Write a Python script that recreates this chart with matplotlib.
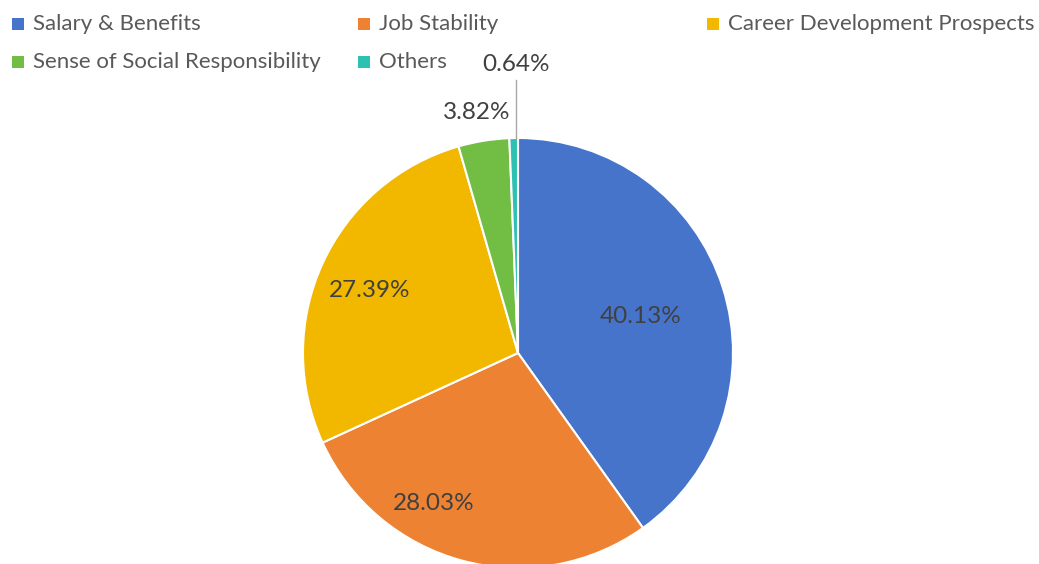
import matplotlib
matplotlib.use("Agg")
import matplotlib.pyplot as plt
from matplotlib.patches import Rectangle

categories = ["Salary & Benefits", "Job Stability", "Career Development Prospects",
              "Sense of Social Responsibility", "Others"]
shares = [40.13, 28.03, 27.39, 3.82, 0.64]
colors = ["#4674CB", "#ED8232", "#F2B800", "#72BE44", "#2CC1B1"]

# label anchor points (pie data units), Excel-style placement
label_pos = [(0.57, 0.17), (-0.39, -0.70), (-0.69, 0.29), (-0.19, 1.12), (-0.01, 1.34)]

W, H = 1039, 564
fig = plt.figure(figsize=(W / 100, H / 100), dpi=100)
plt.rcParams["font.family"] = ["Lato", "DejaVu Sans"]

cx, cy, r = 518, 353, 215
ax = fig.add_axes([(cx - r) / W, (H - cy - r) / H, 2 * r / W, 2 * r / H])
ax.pie(shares, colors=colors, startangle=90, counterclock=False, radius=1,
       wedgeprops=dict(edgecolor="white", linewidth=1.5))
ax.set_xlim(-1, 1); ax.set_ylim(-1, 1)
ax.set_aspect("equal")
ax.axis("off")

for (x, y), v in zip(label_pos, shares):
    ax.text(x, y, f"{v:.2f}%", ha="center", va="center", fontsize=17.5,
            color="#404040", clip_on=False)
# leader line for the tiny slice
ax.plot([-0.01, -0.01], [1.27, 1.0], color="#A6A6A6", lw=1, clip_on=False)

# legend, laid out like the Excel one
leg_x = [12, 358, 707]
leg_y = [24, 62]
for i, (name, c) in enumerate(zip(categories, colors)):
    col, row = i % 3, i // 3
    x, y = leg_x[col], leg_y[row]
    fig.patches.append(Rectangle((x / W, (H - y - 6) / H), 12 / W, 12 / H,
                                 transform=fig.transFigure, facecolor=c, edgecolor="none"))
    fig.text((x + 21) / W, (H - y) / H, name, ha="left", va="center",
             fontsize=16, color="#595959")

fig.savefig("out.png", dpi=100, facecolor="white")
